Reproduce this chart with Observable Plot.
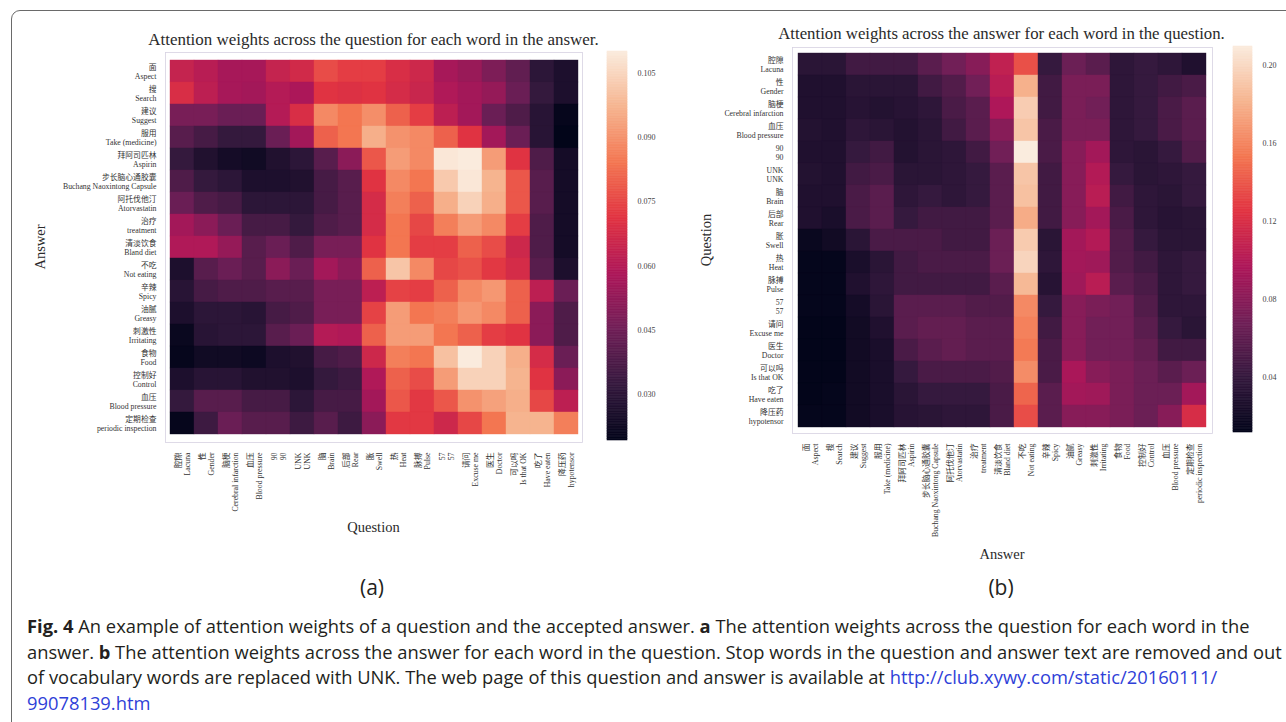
<!DOCTYPE html>
<html><head><meta charset="utf-8">
<script src="https://cdn.jsdelivr.net/npm/d3@7"></script>
<script src="https://cdn.jsdelivr.net/npm/@observablehq/plot@0.6"></script>
<style>
body{margin:0;background:#fff;}
#root{position:relative;width:1286px;height:722px;overflow:hidden;background:#fff;}
#root > *{position:absolute;}
.txt{white-space:nowrap;line-height:1;}
.serif{font-family:"Liberation Serif","Noto Sans CJK SC",serif;color:#2a2a2a;}
.sans{font-family:"Open Sans","Liberation Sans",sans-serif;color:#231f20;}
.cap a{color:#2f3fd8;text-decoration:none;}
</style></head><body><div id="root"></div>
<script>
// ---------- data ----------
const questionZh = ["腔隙","性","脑梗","血压","90","UNK","脑","后部","胀","热","脉搏","57","请问","医生","可以吗","吃了","降压药"];
const questionEn = ["Lacuna","Gender","Cerebral infarction","Blood pressure","90","UNK","Brain","Rear","Swell","Heat","Pulse","57","Excuse me","Doctor","Is that OK","Have eaten","hypotensor"];
const answerZh = ["面","搜","建议","服用","拜阿司匹林","步长脑心通胶囊","阿托伐他汀","治疗","清淡饮食","不吃","辛辣","油腻","刺激性","食物","控制好","血压","定期检查"];
const answerEn = ["Aspect","Search","Suggest","Take (medicine)","Aspirin","Buchang Naoxintong Capsule","Atorvastatin","treatment","Bland diet","Not eating","Spicy","Greasy","Irritating","Food","Control","Blood pressure","periodic inspection"];

// (a) rows = answer words, columns = question words
const attnA = [
[0.064,0.061,0.057,0.057,0.064,0.067,0.076,0.073,0.073,0.069,0.066,0.057,0.054,0.048,0.042,0.030,0.026],
[0.069,0.062,0.057,0.056,0.060,0.058,0.071,0.070,0.071,0.068,0.065,0.059,0.056,0.053,0.044,0.032,0.026],
[0.047,0.047,0.044,0.044,0.060,0.069,0.088,0.084,0.089,0.080,0.073,0.062,0.056,0.044,0.038,0.029,0.020],
[0.040,0.036,0.032,0.032,0.044,0.056,0.080,0.084,0.096,0.090,0.088,0.080,0.071,0.056,0.044,0.029,0.019],
[0.032,0.027,0.024,0.023,0.027,0.030,0.040,0.051,0.078,0.092,0.088,0.109,0.110,0.092,0.071,0.038,0.024],
[0.038,0.032,0.030,0.026,0.026,0.027,0.036,0.040,0.071,0.088,0.084,0.102,0.109,0.097,0.078,0.040,0.024],
[0.044,0.038,0.036,0.030,0.030,0.030,0.036,0.040,0.068,0.086,0.080,0.096,0.104,0.096,0.078,0.040,0.024],
[0.056,0.051,0.044,0.036,0.036,0.032,0.038,0.040,0.068,0.084,0.075,0.086,0.092,0.088,0.073,0.038,0.024],
[0.059,0.059,0.053,0.040,0.044,0.038,0.047,0.047,0.071,0.084,0.073,0.073,0.080,0.076,0.066,0.038,0.024],
[0.026,0.040,0.044,0.040,0.051,0.044,0.056,0.051,0.080,0.101,0.088,0.075,0.077,0.072,0.068,0.040,0.026],
[0.029,0.036,0.038,0.038,0.040,0.040,0.047,0.047,0.062,0.074,0.073,0.080,0.088,0.091,0.080,0.062,0.044],
[0.026,0.030,0.030,0.029,0.036,0.038,0.047,0.047,0.074,0.092,0.084,0.086,0.091,0.088,0.080,0.051,0.038],
[0.021,0.029,0.030,0.030,0.040,0.044,0.060,0.059,0.080,0.092,0.092,0.084,0.080,0.073,0.071,0.051,0.038],
[0.020,0.023,0.023,0.022,0.026,0.027,0.036,0.038,0.066,0.086,0.084,0.100,0.110,0.104,0.096,0.068,0.044],
[0.026,0.029,0.029,0.027,0.027,0.026,0.032,0.034,0.059,0.080,0.076,0.092,0.104,0.104,0.097,0.071,0.051],
[0.032,0.040,0.040,0.036,0.036,0.030,0.036,0.036,0.056,0.078,0.072,0.078,0.090,0.093,0.096,0.075,0.062],
[0.020,0.034,0.044,0.040,0.040,0.034,0.040,0.034,0.051,0.072,0.072,0.066,0.075,0.084,0.097,0.097,0.086]
];
// (b) rows = question words, columns = answer words
const attnB = [
[0.034,0.034,0.046,0.046,0.046,0.058,0.069,0.079,0.107,0.137,0.040,0.066,0.058,0.036,0.040,0.036,0.028],
[0.028,0.028,0.034,0.034,0.034,0.046,0.054,0.069,0.103,0.180,0.046,0.073,0.073,0.036,0.040,0.046,0.050],
[0.028,0.028,0.032,0.030,0.032,0.036,0.050,0.058,0.097,0.194,0.046,0.073,0.069,0.036,0.040,0.050,0.058],
[0.030,0.028,0.036,0.034,0.030,0.034,0.046,0.058,0.079,0.190,0.050,0.073,0.073,0.036,0.040,0.050,0.058],
[0.028,0.028,0.040,0.046,0.030,0.034,0.036,0.046,0.069,0.210,0.050,0.079,0.092,0.036,0.034,0.040,0.054],
[0.030,0.028,0.046,0.050,0.034,0.034,0.036,0.040,0.058,0.190,0.046,0.079,0.100,0.040,0.034,0.036,0.040],
[0.028,0.028,0.050,0.058,0.036,0.040,0.036,0.040,0.058,0.188,0.046,0.079,0.103,0.046,0.036,0.034,0.040],
[0.028,0.025,0.050,0.058,0.040,0.046,0.046,0.046,0.058,0.178,0.046,0.079,0.092,0.050,0.036,0.032,0.034],
[0.016,0.020,0.034,0.050,0.050,0.050,0.046,0.046,0.066,0.193,0.034,0.092,0.100,0.054,0.040,0.034,0.034],
[0.013,0.013,0.025,0.034,0.046,0.050,0.050,0.050,0.066,0.198,0.036,0.092,0.090,0.054,0.046,0.036,0.040],
[0.013,0.013,0.028,0.036,0.046,0.046,0.046,0.046,0.058,0.184,0.032,0.090,0.103,0.058,0.050,0.036,0.040],
[0.013,0.013,0.022,0.034,0.058,0.058,0.058,0.054,0.054,0.162,0.040,0.079,0.073,0.069,0.054,0.036,0.036],
[0.012,0.012,0.020,0.028,0.058,0.062,0.062,0.058,0.058,0.158,0.046,0.079,0.069,0.069,0.058,0.040,0.034],
[0.012,0.012,0.020,0.025,0.050,0.058,0.062,0.058,0.058,0.155,0.050,0.079,0.069,0.069,0.062,0.046,0.046],
[0.012,0.012,0.020,0.025,0.040,0.050,0.050,0.050,0.054,0.163,0.050,0.095,0.079,0.073,0.066,0.058,0.066],
[0.012,0.013,0.020,0.025,0.034,0.040,0.040,0.040,0.050,0.146,0.058,0.092,0.090,0.073,0.066,0.066,0.092],
[0.013,0.013,0.020,0.025,0.032,0.034,0.036,0.036,0.050,0.136,0.058,0.079,0.079,0.073,0.066,0.079,0.119]
];
const colorDomainA = [0.0193, 0.1100];
const colorDomainB = [0.0118, 0.2097];
const colorTicksA = [0.030, 0.045, 0.060, 0.075, 0.090, 0.105];
const colorTicksB = [0.04, 0.08, 0.12, 0.16, 0.20];

// ---------- style ----------
const rocketStops = ["#03051a","#35193e","#701f57","#ad1759","#e13342","#f37651","#f6b48f","#faebdd"];
const rocket = d3.piecewise(d3.interpolateRgb, rocketStops);
const SERIF = '"Liberation Serif","Noto Sans CJK SC",serif';
const root = document.getElementById("root");

const qLabels = questionZh.map((z, i) => z + "\n" + questionEn[i]);
const aLabels = answerZh.map((z, i) => z + "\n" + answerEn[i]);

function heatmap({matrix, xLabels, yLabels, domain, width, height, margins}) {
  const cells = [];
  yLabels.forEach((yl, i) => xLabels.forEach((xl, j) => cells.push({x: xl, y: yl, v: matrix[i][j]})));
  return Plot.plot({
    width, height, ...margins,
    style: {background: "transparent", fontFamily: SERIF, fontSize: "7.8px", color: "#333", overflow: "visible"},
    x: {domain: xLabels, padding: 0, axis: null},
    y: {domain: yLabels, padding: 0, axis: null},
    color: {type: "linear", domain, interpolate: rocket},
    marks: [
      Plot.cell(cells, {x: "x", y: "y", fill: "v", stroke: "v", strokeWidth: 0.4, inset: 0}),
      Plot.axisX({anchor: "bottom", tickRotate: -90, tickSize: 0, tickPadding: 10, lineHeight: 1.12, tickFormat: d => d, label: null}),
      Plot.axisY({anchor: "left", tickSize: 0, tickPadding: 9, lineHeight: 1.25, tickFormat: d => d, label: null}),
      Plot.frame({stroke: "#d6d2e2", strokeWidth: 0.8})
    ]
  });
}

function colorbar({domain, ticks, fmt, width, height}) {
  const N = 240, [lo, hi] = domain;
  const ramp = d3.range(N).map(i => ({y1: lo + (hi - lo) * i / N, y2: lo + (hi - lo) * (i + 1) / N, v: lo + (hi - lo) * (i + 0.5) / N}));
  return Plot.plot({
    width: width + 40, height, marginLeft: 0, marginRight: 40, marginTop: 0, marginBottom: 0,
    style: {background: "transparent", fontFamily: SERIF, fontSize: "8px", color: "#444", overflow: "visible"},
    x: {domain: [0, 1], axis: null},
    y: {domain, axis: null},
    color: {type: "linear", domain, interpolate: rocket},
    marks: [
      Plot.rect(ramp, {x1: 0, x2: 1, y1: "y1", y2: "y2", fill: "v", stroke: "v", strokeWidth: 0.6}),
      Plot.axisY({anchor: "right", ticks, tickFormat: fmt, tickSize: 0, tickPadding: 10, label: null})
    ]
  });
}

function place(el, left, top) { el.style.left = left + "px"; el.style.top = top + "px"; root.appendChild(el); return el; }

function addText(str, x, y, {size = 14, cls = "serif", rotate = 0, fitWidth = null, color = null} = {}) {
  const d = document.createElement("div");
  d.className = "txt " + cls;
  d.textContent = str;
  d.style.fontSize = size + "px";
  if (color) d.style.color = color;
  d.style.left = x + "px"; d.style.top = y + "px";
  d.style.transform = `translate(-50%,-50%) rotate(${rotate}deg)`;
  root.appendChild(d);
  if (fitWidth) {
    const w = d.getBoundingClientRect().width;
    d.style.fontSize = (size * fitWidth / w) + "px";
  }
  return d;
}

// border frame
const frame = document.createElement("div");
frame.style.cssText = "left:11px;top:10px;width:1300px;height:740px;border:1px solid #6a6a6a;border-radius:9px;box-sizing:border-box;";
root.appendChild(frame);

// (a)
place(heatmap({matrix: attnA, xLabels: qLabels, yLabels: aLabels, domain: colorDomainA,
  width: 600, height: 560, margins: {marginLeft: 165, marginRight: 18, marginTop: 52, marginBottom: 118}}), 0, 0);
place(colorbar({domain: colorDomainA, ticks: colorTicksA, fmt: d3.format(".3f"), width: 20, height: 389}), 607, 51);
addText("Attention weights across the question for each word in the answer.", 373.5, 40, {size: 15.5, fitWidth: 451});
addText("Question", 373.5, 527, {size: 14.5});
addText("Answer", 40, 247, {size: 14.5, rotate: -90});
addText("(a)", 372, 587, {size: 21, cls: "sans"});

// (b)
place(heatmap({matrix: attnB, xLabels: aLabels, yLabels: qLabels, domain: colorDomainB,
  width: 540, height: 580, margins: {marginLeft: 102, marginRight: 18, marginTop: 47, marginBottom: 147}}), 690, 0);
place(colorbar({domain: colorDomainB, ticks: colorTicksB, fmt: d3.format(".2f"), width: 19, height: 386}), 1233, 46);
addText("Attention weights across the answer for each word in the question.", 1001.5, 34, {size: 15.5, fitWidth: 447});
addText("Question", 706, 240, {size: 14.5, rotate: -90});
addText("Answer", 1002, 554, {size: 14.5});
addText("(b)", 1001, 587, {size: 21, cls: "sans"});

// caption
const capLines = [
  '<b>Fig. 4</b> An example of attention weights of a question and the accepted answer. <b>a</b> The attention weights across the question for each word in the',
  'answer. <b>b</b> The attention weights across the answer for each word in the question. Stop words in the question and answer text are removed and out',
  'of vocabulary words are replaced with UNK. The web page of this question and answer is available at <a href="http://club.xywy.com/static/20160111/99078139.htm">http://club.xywy.com/static/20160111/</a>',
  '<a href="http://club.xywy.com/static/20160111/99078139.htm">99078139.htm</a>'
];
const capEls = capLines.map((html, i) => {
  const d = document.createElement("div");
  d.className = "txt sans cap";
  d.innerHTML = html;
  d.style.fontSize = "16px";
  d.style.left = "27px";
  d.style.top = (626 + i * 25.5) + "px";
  d.style.transform = "translateY(-50%)";
  root.appendChild(d);
  return d;
});
const wSum = capEls[0].getBoundingClientRect().width + capEls[1].getBoundingClientRect().width;
const capSize = 16 * (1228 + 1250) / wSum;
capEls.forEach(d => d.style.fontSize = capSize + "px");
</script>
</body></html>
